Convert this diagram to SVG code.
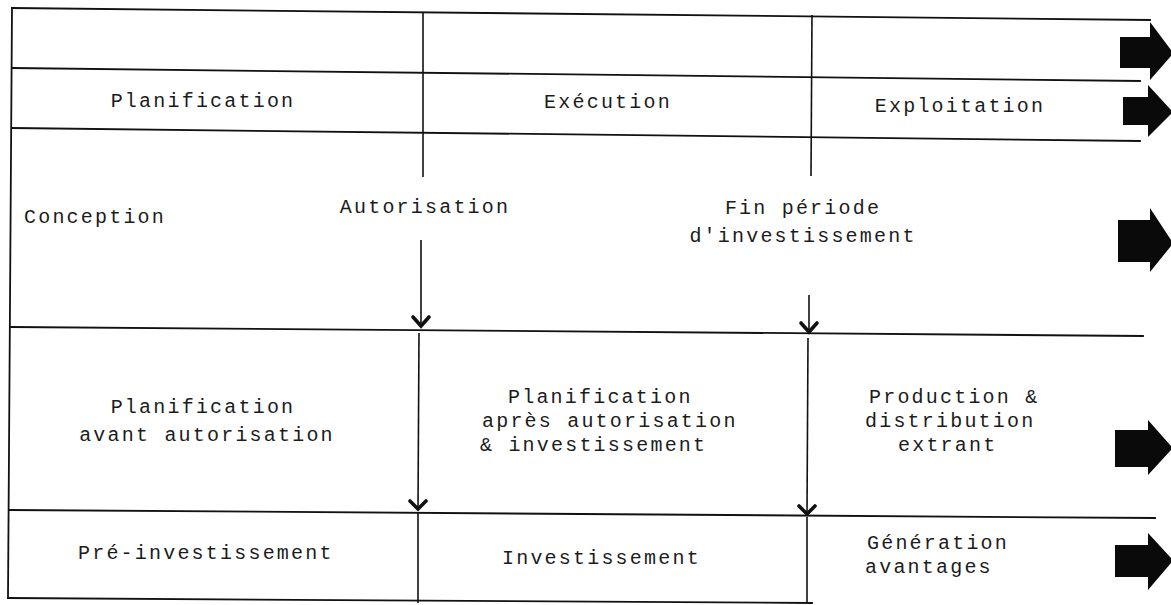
<svg xmlns="http://www.w3.org/2000/svg" width="1171" height="605" viewBox="0 0 1171 605">
  <defs>
    <style>
      .grid { stroke: #111; stroke-width: 1.8; fill: none; stroke-linecap: square; }
      .vline { stroke: #111; stroke-width: 1.6; fill: none; }
      .chev { stroke: #111; stroke-width: 3.6; fill: none; stroke-linejoin: miter; stroke-linecap: round; }
      .block { fill: #0a0a0a; }
      text { font-family: "Liberation Mono", "DejaVu Sans Mono", monospace; font-size: 20px; fill: #1c1c1c; letter-spacing: 2.2px; }
      .c { text-anchor: middle; }
    </style>
  </defs>
  <rect width="1171" height="605" fill="#fff"/>

  <!-- table frame: horizontal rules -->
  <g id="frame">
    <line class="grid" x1="12" y1="8" x2="1150" y2="20"/>
    <line class="grid" x1="12" y1="68" x2="1140" y2="81"/>
    <line class="grid" x1="12" y1="128" x2="1140" y2="141"/>
    <line class="grid" x1="11" y1="327" x2="1143" y2="336"/>
    <line class="grid" x1="9" y1="510" x2="1155" y2="518"/>
    <line class="grid" x1="8" y1="598" x2="812" y2="603"/>
    <line class="grid" x1="12" y1="8" x2="8" y2="598"/>
  </g>

  <!-- milestone connectors -->
  <g id="connectors">
    <line class="vline" x1="423" y1="13" x2="423" y2="177"/>
    <line class="vline" x1="421" y1="240" x2="421" y2="326"/>
    <path class="chev" d="M413 317 L421 326 L429 317"/>
    <line class="vline" x1="419" y1="333" x2="418" y2="509"/>
    <path class="chev" d="M410 501 L418 509 L426 501"/>
    <line class="vline" x1="418" y1="512" x2="418" y2="603"/>

    <line class="vline" x1="812" y1="15" x2="811" y2="176"/>
    <line class="vline" x1="809" y1="295" x2="809" y2="332"/>
    <path class="chev" d="M801 323 L809 332 L817 323"/>
    <line class="vline" x1="808" y1="338" x2="807" y2="514"/>
    <path class="chev" d="M799 506 L807 514 L815 506"/>
    <line class="vline" x1="807" y1="517" x2="807" y2="603"/>
  </g>

  <!-- continuation arrows -->
  <g id="continuation-arrows">
    <polygon class="block" points="1120,37 1150,37 1150,22 1171,50 1171,56 1150,80 1150,68 1120,68"/>
    <polygon class="block" points="1123,97 1148,97 1148,85 1171,110 1171,114 1148,137 1148,125 1123,125"/>
    <polygon class="block" points="1118,220 1150,220 1150,208 1171,240 1171,246 1150,272 1150,262 1118,262"/>
    <polygon class="block" points="1115,430 1148,430 1148,420 1171,446 1171,450 1148,475 1148,467 1115,467"/>
    <polygon class="block" points="1115,545 1148,545 1148,533 1171,558 1171,563 1148,590 1148,577 1115,577"/>
  </g>

  <!-- phase headings -->
  <g id="phase-planification"><text class="c" x="203" y="107">Planification</text></g>
  <g id="phase-execution"><text class="c" x="608" y="108">Exécution</text></g>
  <g id="phase-exploitation"><text class="c" x="960" y="112">Exploitation</text></g>

  <!-- milestones -->
  <g id="ms-conception"><text x="24" y="223">Conception</text></g>
  <g id="ms-autorisation"><text class="c" x="425" y="213">Autorisation</text></g>
  <g id="ms-fin">
    <text class="c" x="803" y="214">Fin période</text>
    <text class="c" x="803" y="242">d'investissement</text>
  </g>

  <!-- activities -->
  <g id="act-avant">
    <text class="c" x="203" y="413">Planification</text>
    <text class="c" x="207" y="441">avant autorisation</text>
  </g>
  <g id="act-apres">
    <text x="508" y="403">Planification</text>
    <text x="482" y="427">après autorisation</text>
    <text x="480" y="451">&amp; investissement</text>
  </g>
  <g id="act-production">
    <text x="869" y="403">Production &amp;</text>
    <text x="865" y="427">distribution</text>
    <text x="898" y="451">extrant</text>
  </g>

  <!-- stages -->
  <g id="stage-pre"><text x="78" y="559">Pré-investissement</text></g>
  <g id="stage-invest"><text x="502" y="564">Investissement</text></g>
  <g id="stage-gen">
    <text x="867" y="549">Génération</text>
    <text x="865" y="573">avantages</text>
  </g>
</svg>
